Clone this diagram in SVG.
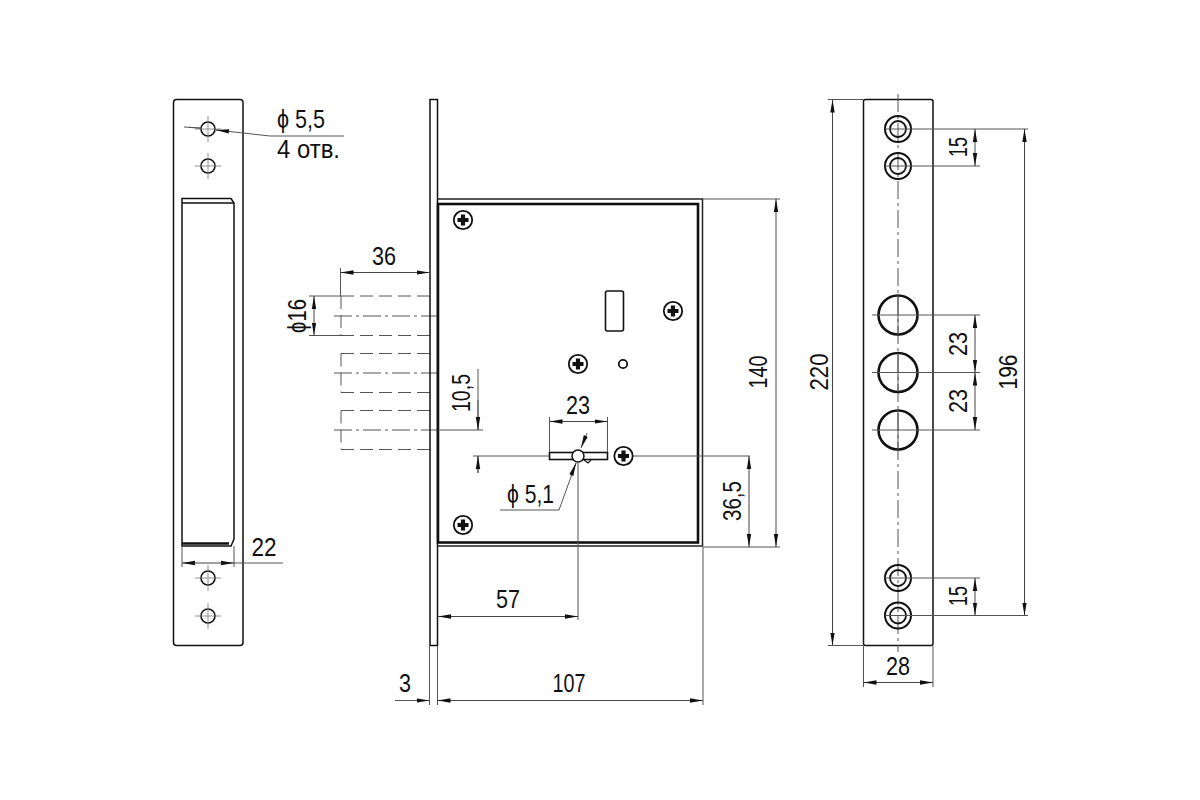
<svg xmlns="http://www.w3.org/2000/svg" width="1200" height="800" viewBox="0 0 1200 800">
<style>
text{font-family:"Liberation Sans",Arial,sans-serif;font-size:26px;fill:#111;text-anchor:middle}
.l{text-anchor:start}
.m{fill:none;stroke:#111;stroke-width:1.6}
.h{fill:none;stroke:#111;stroke-width:2.6}
.k{fill:none;stroke:#111;stroke-width:2.6}
.o{fill:none;stroke:#222;stroke-width:1.5}
.b{fill:none;stroke:#111;stroke-width:1.5}
.d{fill:none;stroke:#444;stroke-width:1;marker-start:url(#a);marker-end:url(#a)}
.e{fill:none;stroke:#555;stroke-width:1}
.c{fill:none;stroke:#555;stroke-width:1;stroke-dasharray:18 4 3 4}
.s{fill:none;stroke:#555;stroke-width:1;stroke-dasharray:13 6}
</style>
<defs>
<marker id="a" markerUnits="userSpaceOnUse" markerWidth="14" markerHeight="6" refX="13" refY="3" orient="auto-start-reverse"><path d="M0 .8L13 3L0 5.2Z" fill="#111"/></marker>
<marker id="e" markerUnits="userSpaceOnUse" markerWidth="14" markerHeight="6" refX="13" refY="3" orient="auto"><path d="M0 .8L13 3L0 5.2Z" fill="#111"/></marker>
<g id="screw"><circle r="9.2" fill="#fff" stroke="#111" stroke-width="1.8"/><path d="M-5.5 0H5.5M0-5.5V5.5" stroke="#111" stroke-width="4.2"/></g>
<g id="hole"><circle r="7" fill="none" stroke="#111" stroke-width="1.6"/><path d="M-13 0H13M0-13V13" stroke="#777" stroke-width=".8"/></g>
<g id="dhole"><circle r="13" fill="none" stroke="#111" stroke-width="2"/><circle r="8" fill="none" stroke="#111" stroke-width="1.8"/><path d="M-13 0H0" stroke="#555" stroke-width="1"/></g>
</defs>

<g id="strike-plate">
<rect class="b" x="173.5" y="99.5" width="69.5" height="546" rx="3"/>
<path class="b" d="M182 546V198.500H231L234 203V539L231 546Z"/>
<path class="b" d="M182 203H234"/>
<path class="k" d="M182 543.500H229"/>
<use href="#hole" x="208" y="129"/><use href="#hole" x="208" y="166"/>
<use href="#hole" x="208" y="578"/><use href="#hole" x="208" y="616"/>
</g>

<g id="bolts">
<path class="s" d="M341 296H430M341 335.500H430M341 353.500H430M341 392.500H430M341 410.500H430M341 449.500H430M341 296V335.500M341 353.500V392.500M341 410.500V449.500"/>
<path class="c" d="M334 316H437M334 373H437M334 430H437"/>
</g>

<g id="lock-case">
<rect class="b" x="430" y="99.500" width="7.500" height="546"/>
<path class="o" d="M437.500 199H702.500V546H437.500"/>
<rect class="h" x="438" y="204" width="260" height="338.500"/>
</g>
<g id="key-slot">
<rect class="m" x="605.500" y="291" width="18" height="40" rx="2"/>
<circle cx="623" cy="364" r="4.200" fill="none" stroke="#111" stroke-width="1.800"/>
<rect class="m" x="549.500" y="452.500" width="58" height="7"/>
<circle cx="578" cy="456" r="6" fill="#fff" stroke="#111" stroke-width="1.500"/>
<path d="M584 460L588 463L591 460" fill="none" stroke="#111" stroke-width="1.200"/>
</g>
<g id="screws">
<use href="#screw" x="463" y="220"/><use href="#screw" x="673" y="311"/><use href="#screw" x="578" y="364"/><use href="#screw" x="623.500" y="456"/><use href="#screw" x="463" y="525"/>
</g>

<g id="faceplate">
<rect class="b" x="863.500" y="99.500" width="69.500" height="546" rx="2"/>
<path class="c" d="M898 94V652"/>
<use href="#dhole" x="898" y="129"/><use href="#dhole" x="898" y="166"/>
<use href="#dhole" x="898" y="578"/><use href="#dhole" x="898" y="615.500"/>
<circle cx="898" cy="315" r="19.500" class="k"/>
<circle cx="898" cy="372.500" r="19.500" class="k"/>
<circle cx="898" cy="430" r="19.500" class="k"/>
<path class="e" d="M898 295V335M898 353V392M898 410V450"/>
</g>

<g id="connectors">
<path class="e" d="M184 127L201 128M216 130L270 136H344"/>
<path d="M189 127.300L201 128.300M228 131.300L216 130" class="e" marker-end="url(#e)"/>
<path class="e" d="M182 546V567M234 546V567M234 563H283"/>
<path class="d" d="M182 563H234"/>

<path class="e" d="M340.500 268V296M429.500 268V296M309 296H341M309 335.500H341"/>
<path class="d" d="M340.500 272.500H429.500"/>
<path class="d" d="M314 296V335.500"/>

<path class="e" d="M478 369V430M438 430H483M473 456H549M633 456H750M478 456V473"/>
<path d="M478 400V430" class="e" marker-end="url(#e)"/>
<path d="M478 473V456" class="e" marker-end="url(#e)"/>

<path class="e" d="M549.500 417V452M607.500 417V452"/>
<path class="d" d="M549.500 421.500H607.500"/>
<path class="e" d="M500 510H559L576 463"/>
<path d="M571 476L576 463" class="e" marker-end="url(#e)"/>
<path d="M587 433L581 448" class="e" marker-end="url(#e)"/>

<path class="e" d="M578 462V620"/>
<path class="d" d="M438 616.500H578"/>
<path class="e" d="M703 199H780M703 547H780M703 547V705M429.500 646V705M437.500 646V705"/>
<path class="d" d="M776 199V547"/>
<path class="d" d="M749 456V547"/>
<path class="d" d="M437.500 700.500H703"/>
<path class="e" d="M395 700.500H429.500"/>
<path d="M410 700.500H429.500" class="e" marker-end="url(#e)"/>

<path class="e" d="M828 99.500H863.500M828 645.500H863.500M863.500 646V687M933 646V687M898 129H1028M898 166H980M898 578H980M898 615.500H1028M872 315H980M872 372.500H980M872 430H980"/>
<path class="d" d="M832.500 99.500V645.500"/>
<path class="d" d="M863.500 682.500H933"/>
<path class="d" d="M975 129V166"/>
<path class="d" d="M975 578V615.500"/>
<path class="d" d="M975 315V372.500"/>
<path class="d" d="M975 372.500V430"/>
<path class="d" d="M1024.500 129V615.500"/>
</g>

<g id="labels">
<text class="l" x="277" y="128" textLength="48" lengthAdjust="spacingAndGlyphs">ϕ 5,5</text>
<text class="l" x="277" y="158" textLength="63" lengthAdjust="spacingAndGlyphs">4 отв.</text>
<text x="264" y="556" textLength="25" lengthAdjust="spacingAndGlyphs">22</text>
<text x="384" y="265" textLength="24" lengthAdjust="spacingAndGlyphs">36</text>
<text transform="translate(306 316) rotate(-90)" textLength="34" lengthAdjust="spacingAndGlyphs">ϕ16</text>
<text transform="translate(470 393) rotate(-90)" textLength="38" lengthAdjust="spacingAndGlyphs">10,5</text>
<text x="578" y="414" textLength="24" lengthAdjust="spacingAndGlyphs">23</text>
<text class="l" x="507" y="503" textLength="47" lengthAdjust="spacingAndGlyphs">ϕ 5,1</text>
<text x="508" y="608" textLength="24" lengthAdjust="spacingAndGlyphs">57</text>
<text x="405" y="692" textLength="12" lengthAdjust="spacingAndGlyphs">3</text>
<text x="569" y="692" textLength="33" lengthAdjust="spacingAndGlyphs">107</text>
<text transform="translate(767 372) rotate(-90)" textLength="33" lengthAdjust="spacingAndGlyphs">140</text>
<text transform="translate(741 501) rotate(-90)" textLength="40" lengthAdjust="spacingAndGlyphs">36,5</text>
<text transform="translate(828 372) rotate(-90)" textLength="37" lengthAdjust="spacingAndGlyphs">220</text>
<text x="898" y="675" textLength="24" lengthAdjust="spacingAndGlyphs">28</text>
<text transform="translate(967 147) rotate(-90)" textLength="20" lengthAdjust="spacingAndGlyphs">15</text>
<text transform="translate(967 596) rotate(-90)" textLength="20" lengthAdjust="spacingAndGlyphs">15</text>
<text transform="translate(967 344) rotate(-90)" textLength="24" lengthAdjust="spacingAndGlyphs">23</text>
<text transform="translate(967 401) rotate(-90)" textLength="24" lengthAdjust="spacingAndGlyphs">23</text>
<text transform="translate(1017 372) rotate(-90)" textLength="35" lengthAdjust="spacingAndGlyphs">196</text>
</g>
</svg>
